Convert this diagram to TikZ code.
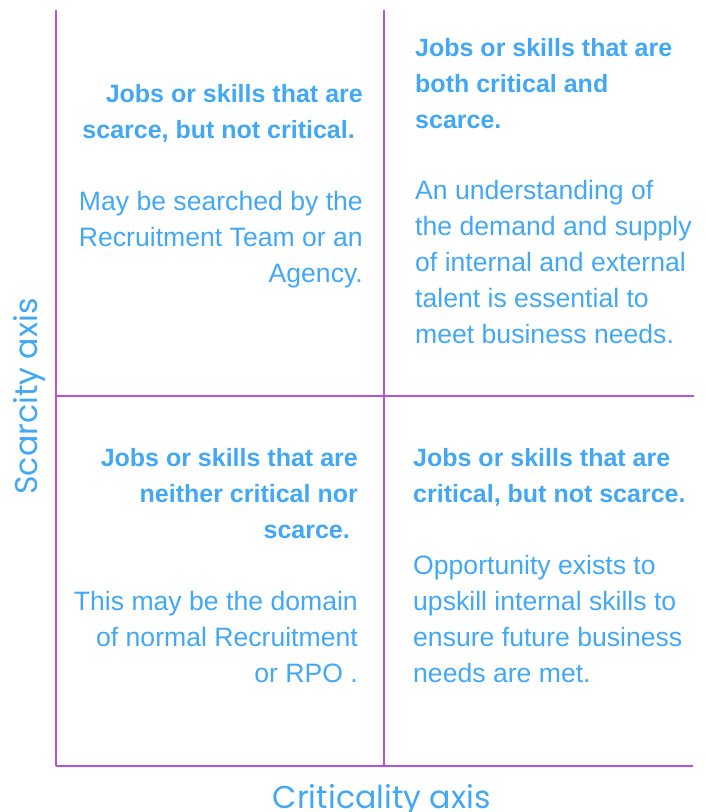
\documentclass[tikz,border=0pt]{standalone}
\usepackage{fontspec}
\setmainfont{Liberation Sans}
\newfontfamily\axisfont{Poppins}
\definecolor{gridpurple}{RGB}{182,82,224}
\definecolor{textblue}{RGB}{66,168,245}
\tikzset{
  grid/.style={draw=gridpurple, line width=1.6pt},
  headtext/.style={text=textblue, inner sep=0pt, font=\fontsize{25}{36}\selectfont\bfseries},
  bodytext/.style={text=textblue, inner sep=0pt, font=\fontsize{26.6}{36}\selectfont},
  axislabel/.style={text=textblue, inner sep=0pt, font=\axisfont\fontsize{31.6}{36}\selectfont}
}
\begin{document}
\begin{tikzpicture}[x=1pt, y=-1pt]
\useasboundingbox (0,0) rectangle (706,812);

% corners of the four-cell grid
\coordinate (tl) at (56,10);
\coordinate (bl) at (56,766);
\coordinate (tm) at (384,10);
\coordinate (bm) at (384,766);
\coordinate (ml) at (56,396);
\coordinate (mr) at (694,396);
\coordinate (br) at (693,766);

\draw[grid] (tl) -- (bl);
\draw[grid] (tm) -- (bm);
\draw[grid] (ml) -- (mr);
\draw[grid] (bl) -- (br);

% upper left cell
\node[headtext, anchor=north east, align=right] (tlhead) at (363,84.6)
  {Jobs or skills that are\\scarce, but not critical.\hspace*{8pt}};
\node[bodytext, anchor=north east, align=right] (tlbody) at (363,191.2)
  {May be searched by the\\Recruitment Team or an\\Agency.};

% upper right cell
\node[headtext, anchor=north west, align=left] (trhead) at (415,38.2)
  {Jobs or skills that are\\both critical and\\scarce.};
\node[bodytext, anchor=north west, align=left] (trbody) at (415,180.2)
  {An understanding of\\the demand and supply\\of internal and external\\talent is essential to\\meet business needs.};

% lower left cell
\node[headtext, anchor=north east, align=right] (blhead) at (358,448.2)
  {Jobs or skills that are\\neither critical nor\\scarce.\hspace*{8pt}};
\node[bodytext, anchor=north east, align=right] (blbody) at (358,590.9)
  {This may be the domain\\of normal Recruitment\\or RPO .};

% lower right cell
\node[headtext, anchor=north west, align=left] (brhead) at (413,448.2)
  {Jobs or skills that are\\critical, but not scarce.};
\node[bodytext, anchor=north west, align=left] (brbody) at (413,554.6)
  {Opportunity exists to\\upskill internal skills to\\ensure future business\\needs are met.};

% axis titles
\node[axislabel, rotate=90, anchor=base] (yaxis) at (37,396.5) {Scarcity axis};
\node[axislabel, anchor=base] (xaxis) at (381.7,808) {Criticality axis};
\end{tikzpicture}
\end{document}
